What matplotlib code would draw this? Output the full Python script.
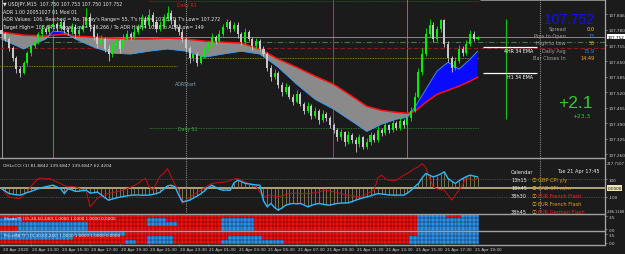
import numpy as np
import matplotlib
matplotlib.use("Agg")
import matplotlib.pyplot as plt
from matplotlib.colors import ListedColormap

W, H = 625, 255
BG = "#1b1b1b"
BULL = "#00ee00"
BEAR = "#c8c8c8"

# ---- USDJPY M15 candles, 20 Apr 11:30 .. 21 Apr 19:45 ----
opens = [107.781, 107.762, 107.741, 107.703, 107.664, 107.618, 107.602, 107.641, 107.683, 107.712,
         107.734, 107.761, 107.783, 107.772, 107.791, 107.803, 107.788, 107.812, 107.779, 107.771,
         107.793, 107.762, 107.781, 107.802, 107.833, 107.791, 107.752, 107.721, 107.743, 107.702,
         107.681, 107.712, 107.733, 107.701, 107.742, 107.763, 107.751, 107.772, 107.793, 107.822,
         107.801, 107.842, 107.811, 107.783, 107.802, 107.831, 107.852, 107.821, 107.792, 107.771,
         107.742, 107.703, 107.662, 107.681, 107.643, 107.672, 107.701, 107.722, 107.751, 107.733,
         107.762, 107.791, 107.812, 107.783, 107.801, 107.762, 107.731, 107.772, 107.741, 107.712,
         107.733, 107.702, 107.681, 107.622, 107.583, 107.601, 107.552, 107.521, 107.543, 107.502,
         107.481, 107.512, 107.472, 107.441, 107.463, 107.422, 107.443, 107.402, 107.431, 107.412,
         107.383, 107.362, 107.331, 107.352, 107.312, 107.341, 107.322, 107.302, 107.331, 107.292,
         107.312, 107.341, 107.322, 107.362, 107.351, 107.382, 107.361, 107.392, 107.372, 107.401,
         107.383, 107.412, 107.443, 107.502, 107.603, 107.681, 107.762, 107.801, 107.741, 107.782,
         107.821, 107.722, 107.661, 107.622, 107.651, 107.702, 107.683, 107.721, 107.762, 107.741]
highs = [107.792, 107.771, 107.752, 107.712, 107.671, 107.631, 107.652, 107.694, 107.721, 107.748,
         107.772, 107.801, 107.795, 107.806, 107.821, 107.814, 107.829, 107.822, 107.792, 107.809,
         107.803, 107.798, 107.826, 107.872, 107.851, 107.806, 107.768, 107.757, 107.751, 107.718,
         107.729, 107.748, 107.741, 107.761, 107.778, 107.771, 107.789, 107.806, 107.848, 107.836,
         107.868, 107.853, 107.822, 107.818, 107.847, 107.879, 107.863, 107.832, 107.803, 107.782,
         107.751, 107.711, 107.693, 107.689, 107.684, 107.713, 107.735, 107.768, 107.759, 107.779,
         107.806, 107.825, 107.821, 107.815, 107.811, 107.771, 107.789, 107.781, 107.752, 107.745,
         107.741, 107.711, 107.689, 107.633, 107.618, 107.609, 107.563, 107.557, 107.551, 107.511,
         107.528, 107.519, 107.481, 107.478, 107.471, 107.458, 107.451, 107.445, 107.439, 107.421,
         107.392, 107.371, 107.366, 107.359, 107.356, 107.349, 107.331, 107.346, 107.338, 107.327,
         107.355, 107.349, 107.378, 107.371, 107.398, 107.389, 107.408, 107.399, 107.418, 107.409,
         107.426, 107.458, 107.519, 107.622, 107.703, 107.786, 107.827, 107.812, 107.795, 107.827,
         107.826, 107.733, 107.669, 107.667, 107.716, 107.711, 107.739, 107.781, 107.775, 107.753]
lows = [107.751, 107.733, 107.694, 107.652, 107.601, 107.585, 107.594, 107.632, 107.671, 107.703,
        107.722, 107.752, 107.761, 107.764, 107.778, 107.776, 107.779, 107.768, 107.757, 107.763,
        107.748, 107.753, 107.772, 107.791, 107.776, 107.738, 107.703, 107.712, 107.688, 107.652,
        107.668, 107.701, 107.685, 107.693, 107.731, 107.738, 107.742, 107.761, 107.781, 107.789,
        107.792, 107.798, 107.771, 107.774, 107.791, 107.818, 107.806, 107.781, 107.758, 107.731,
        107.688, 107.641, 107.651, 107.628, 107.636, 107.662, 107.692, 107.713, 107.722, 107.724,
        107.753, 107.782, 107.771, 107.774, 107.748, 107.718, 107.723, 107.732, 107.698, 107.703,
        107.691, 107.669, 107.608, 107.566, 107.574, 107.538, 107.506, 107.512, 107.491, 107.466,
        107.473, 107.461, 107.428, 107.433, 107.409, 107.413, 107.389, 107.394, 107.401, 107.371,
        107.348, 107.316, 107.322, 107.296, 107.304, 107.308, 107.272, 107.291, 107.281, 107.284,
        107.301, 107.311, 107.314, 107.339, 107.343, 107.348, 107.352, 107.361, 107.364, 107.371,
        107.374, 107.401, 107.436, 107.494, 107.592, 107.672, 107.751, 107.729, 107.733, 107.771,
        107.708, 107.648, 107.606, 107.613, 107.642, 107.671, 107.676, 107.712, 107.733, 107.739]
closes = [107.762, 107.741, 107.703, 107.664, 107.618, 107.602, 107.641, 107.683, 107.712, 107.734,
          107.761, 107.783, 107.772, 107.791, 107.803, 107.788, 107.812, 107.779, 107.771, 107.793,
          107.762, 107.781, 107.802, 107.833, 107.791, 107.752, 107.721, 107.743, 107.702, 107.681,
          107.712, 107.733, 107.701, 107.742, 107.763, 107.751, 107.772, 107.793, 107.822, 107.801,
          107.842, 107.811, 107.783, 107.802, 107.831, 107.852, 107.821, 107.792, 107.771, 107.742,
          107.703, 107.662, 107.681, 107.643, 107.672, 107.701, 107.722, 107.751, 107.733, 107.762,
          107.791, 107.812, 107.783, 107.801, 107.762, 107.731, 107.772, 107.741, 107.712, 107.733,
          107.702, 107.681, 107.622, 107.583, 107.601, 107.552, 107.521, 107.543, 107.502, 107.481,
          107.512, 107.472, 107.441, 107.463, 107.422, 107.443, 107.402, 107.431, 107.412, 107.383,
          107.362, 107.331, 107.352, 107.312, 107.341, 107.322, 107.302, 107.331, 107.292, 107.312,
          107.341, 107.322, 107.362, 107.351, 107.382, 107.361, 107.392, 107.372, 107.401, 107.383,
          107.412, 107.443, 107.502, 107.603, 107.681, 107.762, 107.801, 107.741, 107.782, 107.821,
          107.722, 107.661, 107.622, 107.651, 107.702, 107.683, 107.721, 107.762, 107.741, 107.752]

# EMA cloud (read at these bars)
ema_bars = [0, 6, 12, 14, 17, 20, 25, 30, 35, 40, 45, 50, 55, 60, 65, 70, 72, 75, 80, 85,
            90, 95, 99, 103, 107, 110, 112, 115, 118, 121, 124, 127, 129]
ema_slow = [107.771, 107.758, 107.754, 107.758, 107.762, 107.754, 107.750, 107.746, 107.742, 107.742,
            107.746, 107.742, 107.733, 107.729, 107.725, 107.700, 107.683, 107.658, 107.624, 107.587,
            107.553, 107.503, 107.461, 107.444, 107.436, 107.432, 107.440, 107.478, 107.511, 107.528,
            107.545, 107.566, 107.582]
ema_fast = [107.742, 107.700, 107.742, 107.775, 107.771, 107.742, 107.708, 107.683, 107.679, 107.691,
            107.700, 107.691, 107.666, 107.679, 107.691, 107.679, 107.658, 107.624, 107.553, 107.490,
            107.449, 107.398, 107.356, 107.386, 107.407, 107.415, 107.457, 107.532, 107.608, 107.645,
            107.616, 107.658, 107.691]

# levels
price_now = 107.752
adr_high_line = 107.729
adr_low_line = 107.704
pivot_prev = 107.629
pivot_today = 107.662
daily_s1 = 107.369
daily_r1 = 107.900
ema_4h = 107.708
ema_h1 = 107.599
marker_bars = {"day": 50, "dayend": 146, "sess1": 14, "sess2": 110, "news": 89.8, "first": 0.1}
signal_bar = 136.7

price_ticks = [107.846, 107.780, 107.715, 107.650, 107.585, 107.520, 107.455, 107.390, 107.325, 107.260]

# CCI values per bar
cci_fast = [-6, -35, -65, -72, -80, -84, -70, -52, -40, -22,
            -8, 5, 15, 25, 33, 12, -6, -65, -10, -20,
            -40, -38, -30, -26, -60, -55, -48, -80, -115, -143,
            -130, -118, -108, -100, -92, -86, -84, -82, -86, -84,
            -84, -75, -65, -50, -10, 25, 33, 14, -80, -163,
            -155, -143, -118, -95, -68, -35, 5, 33, 10, -15,
            -26, -24, -26, 60, 92, 75, 55, 48, 42, 36,
            33, -150, -221, -182, -230, -261, -235, -202, -190, -182,
            -186, -182, -200, -221, -205, -190, -182, -190, -198, -202,
            -190, -182, -178, -176, -174, -160, -142, -128, -115, -104,
            -92, -78, -66, -70, -76, -82, -84, -84, -85, -84,
            -60, -26, 15, 53, 120, 171, 150, 131, 145, 165,
            190, 112, 80, 53, 85, 112, 135, 151, 140, 131]
cci_slow = [-6, -60, -104, -115, -120, -124, -80, -40, 20, 70,
            112, 118, 108, 112, 92, 70, 53, 30, 14, 18,
            14, -5, -25, -45, -221, -170, -120, -95, -80, -65,
            -55, -45, -35, -26, -10, 10, 30, 53, 90, 112,
            14, -26, 60, 140, 171, 229, 131, 40, -26, -182,
            -143, -110, -80, -50, -26, 0, 30, 53, 60, 65,
            70, 73, 90, 105, 112, 92, 70, 53, 30, 14,
            -45, -104, -95, -84, -95, -104, -90, -78, -65, -62,
            -60, -65, -68, -65, -62, -55, -45, -35, -26, -35,
            -45, -55, -65, -75, -85, -92, -98, -104, -90, -70,
            -45, -26, 120, 151, 110, 92, 90, 92, 120, 150,
            171, 200, 230, 249, 288, 240, 120, 14, -10, -20,
            -26, -80, -143, -80, -26, 40, 131, 105, 92, 112]

# trend shade panels, run lengths per row ('r' down / 'b' up), top row first
shade_runs = [
    [("r", 113), ("b", 8), ("r", 4), ("b", 5)],
    [("b", 6), ("r", 34), ("b", 5), ("r", 15), ("b", 9), ("r", 44), ("b", 17)],
    [("b", 24), ("r", 16), ("b", 8), ("r", 12), ("b", 9), ("r", 44), ("b", 17)],
    [("r", 5), ("b", 19), ("r", 36), ("b", 9), ("r", 44), ("b", 17)],
]
pricema_runs = [
    [("b", 34), ("r", 79), ("b", 17)],
    [("b", 20), ("r", 20), ("b", 7), ("r", 15), ("b", 9), ("r", 40), ("b", 19)],
    [("r", 34), ("b", 3), ("r", 3), ("b", 7), ("r", 13), ("b", 17), ("r", 34), ("b", 19)],
]

time_ticks = [0, 8, 16, 24, 32, 40, 48, 56, 64, 72, 80, 88, 96, 104, 112, 120, 128]
time_labels = ["20 Apr 2020", "20 Apr 13:30", "20 Apr 15:30", "20 Apr 17:30", "20 Apr 19:30",
               "20 Apr 21:30", "20 Apr 23:30", "21 Apr 01:30", "21 Apr 03:30", "21 Apr 05:30",
               "21 Apr 07:30", "21 Apr 09:30", "21 Apr 11:30", "21 Apr 13:30", "21 Apr 15:30",
               "21 Apr 17:30", "21 Apr 19:30"]

calendar_rows = [("13h15", "GBP CPI y/y", "#e8a317"),
                 ("19h45", "CAD CPI m/m", "#e8a317"),
                 ("38h30", "EUR French Flash", "#ff2020"),
                 ("", "EUR French Flash", "#e8a317"),
                 ("38h45", "EUR German Flash", "#ff2020")]

XMIN, XMAX = -0.41, 163.55
ICON_FONT = ["DejaVu Sans", "Noto Sans CJK JP"]

fig = plt.figure(figsize=(W / 100, H / 100), dpi=100, facecolor=BG)


def panel(x0, y0, x1, y1):
    ax = fig.add_axes([x0 / W, 1 - y1 / H, (x1 - x0) / W, (y1 - y0) / H])
    ax.set_facecolor(BG)
    ax.set_xlim(XMIN, XMAX)
    for s in ax.spines.values():
        s.set_visible(False)
    ax.set_xticks([])
    ax.set_yticks([])
    return ax


def put(x, y, s, **kw):
    kw.setdefault("va", "center")
    kw.setdefault("size", 3.4)
    fig.text(x / W, 1 - y / H, s, **kw)


def right_axis(ax):
    ax.spines["right"].set_visible(True)
    ax.spines["right"].set_color("#a8a8a8")
    ax.spines["right"].set_linewidth(0.9)
    ax.yaxis.tick_right()
    ax.tick_params(axis="y", length=1.5, width=0.5, colors="#a8a8a8", labelsize=3.0,
                   pad=1, labelcolor="#d0d0d0")


# ---------------- main chart ----------------
ax = panel(0, 0, 605, 158.5)
ax.set_ylim(107.2474, 107.909)
right_axis(ax)
ax.set_yticks(price_ticks)
ax.set_yticklabels(["%.3f" % p for p in price_ticks])

xb = np.arange(len(closes))
o = np.array(opens)
c = np.array(closes)
cols = np.where(c >= o, BULL, BEAR)

eb = np.array(ema_bars)
es = np.array(ema_slow)
ef = np.array(ema_fast)
ax.fill_between(eb, es, ef, where=es >= ef, interpolate=True, color="#8a8a8a", lw=0, zorder=2)
ax.fill_between(eb, es, ef, where=ef > es, interpolate=True, color="#0a0aff", lw=0, zorder=2)
ax.plot(eb, es, color="#ff1010", lw=1.1, zorder=2.5)
ax.plot(eb, ef, color="#3aa0ff", lw=0.6, zorder=2.5)

ax.vlines(xb, lows, highs, colors=cols, lw=0.6, zorder=3)
ax.bar(xb, np.maximum(np.abs(c - o), 0.0015), bottom=np.minimum(o, c), width=0.55,
       color=cols, lw=0, zorder=4)

# vertical markers
ax.axvline(marker_bars["first"], color="#b0b0b0", lw=0.6, zorder=1)
ax.axvline(marker_bars["sess1"], color="#9a7420", lw=0.7, zorder=1)
ax.axvline(marker_bars["sess2"], color="#9a7420", lw=0.7, zorder=1)
ax.axvline(marker_bars["news"], color="#b8401c", lw=0.7, zorder=1)
ax.axvline(marker_bars["day"], color="#8a8a8a", lw=0.8, ls=(0, (1, 1)), zorder=1)
ax.axvline(marker_bars["dayend"], color="#8a8a8a", lw=0.8, ls=(0, (1, 1)), zorder=1)
ax.vlines(signal_bar, 107.41, 107.826, color="#10c010", lw=0.9, zorder=3)

# horizontal levels
ax.axhline(price_now, color="#9a9a9a", lw=0.6, zorder=1)
ax.hlines(adr_high_line, 11.5, XMAX, color="#3f7a3f", lw=0.8, ls=(0, (5, 2, 1, 2)), zorder=1)
ax.hlines(adr_low_line, XMIN, XMAX, color="#8a1c1c", lw=0.8, ls=(0, (4, 2)), zorder=1)
ax.hlines(pivot_prev, XMIN, 47.6, color="#a89a30", lw=0.6, ls=(0, (1, 1)), zorder=1)
ax.hlines(pivot_today, 50, 129.5, color="#a89a30", lw=0.6, ls=(0, (1, 1)), zorder=1)
ax.hlines(daily_s1, 40, 129.5, color="#2f8a2f", lw=0.6, ls=(0, (1, 1)), zorder=1)
ax.hlines(daily_r1, 40, 129.5, color="#c02020", lw=0.6, ls=(0, (1, 1)), zorder=1)
ax.hlines(107.903, 129.8, XMAX, color="#9a9a9a", lw=0.6, zorder=1)
ax.hlines(ema_4h, 130.5, 145.1, color="white", lw=0.9, zorder=3)
ax.hlines(ema_h1, 130.5, 145.1, color="white", lw=0.9, zorder=3)

ax.text(1.004, price_now, "%.3f" % price_now, transform=ax.get_yaxis_transform(),
        fontsize=3.0, color="black", va="center", ha="left",
        bbox=dict(boxstyle="square,pad=0.15", fc="white", ec="none"))

# labels in the chart
put(3, 4.5, "\u25bc USDJPY,M15  107.750 107.753 107.750 107.752", color="#e8e8e8")
put(3, 12, "ADR 1.00 20051027 01 Mod 01", color="#e8e8e8")
put(3, 19.5, "ADR Values: 106, Reached = No, Today's Range= 55, T's High= 107.827, T's Low= 107.272",
    color="#e8e8e8")
put(3, 27, "Target High= 108.843, Target Low= 106.266 / To ADR High= 105 / To ADR Low= 149",
    color="#e8e8e8")
put(177, 5, "Daily R1", color="#d02020")
put(175, 85, "ADRStart", color="#7fa0b8")
put(178, 130, "Daily S1", color="#3cb043")

put(594, 20, "%.3f" % price_now, ha="right", size=10, color="#1010ff", family="Liberation Sans")
info = [("Spread", "0.0", "#ffd700"), ("Pips to Open", "15", "#1e90ff"),
        ("High to Low", "55", "#daa520"), ("Daily Avg", "75.9", "#1e90ff"),
        ("Bar Closes In", "14:49", "#ffb000")]
for k, (lab, val, col) in enumerate(info):
    yy = 29.5 + k * 7.2
    put(566, yy, lab, ha="right", color="#a0a0a0", size=3.6)
    put(595, yy, val, ha="right", color=col, size=3.6)

put(533, 51.5, "4HR 34 EMA", ha="right", color="white", size=3.4)
put(533, 77.5, "H1 34 EMA", ha="right", color="white", size=3.4)
put(593, 104, "+2.1", ha="right", size=12.5, color="#32cd32", family="Liberation Sans")
put(590, 117, "+23.3", ha="right", size=4.2, color="#32cd32")

# ---------------- CCI ----------------
ax2 = panel(0, 160, 605, 214)
ax2.set_ylim(-294, 341)
right_axis(ax2)
ax2.set_yticks([100, -100])
ax2.set_yticklabels(["100", "-100"])
ax2.axhline(100, color="#707070", lw=0.5, ls=(0, (1, 1.5)))
ax2.axhline(-100, color="#707070", lw=0.5, ls=(0, (1, 1.5)))
ax2.axhline(0, color="#d8c890", lw=1.1, zorder=1)
ax2.vlines(xb, 0, cci_fast, colors="#a89060", lw=0.5, zorder=2)
ax2.plot(xb, cci_slow, color="#c81010", lw=0.7, zorder=3)
ax2.plot(xb, cci_fast, color="#2ab8ff", lw=1.0, zorder=4)
ax2.axvline(marker_bars["day"], color="#8a8a8a", lw=0.8, ls=(0, (1, 1)), zorder=1)
ax2.axvline(marker_bars["dayend"], color="#8a8a8a", lw=0.8, ls=(0, (1, 1)), zorder=1)
ax2.text(1.004, 0, "0.0000", transform=ax2.get_yaxis_transform(), fontsize=3.0, color="black",
         va="center", ha="left", bbox=dict(boxstyle="square,pad=0.15", fc="#f0e6b8", ec="none"))
put(606.5, 164, "217.7107", color="#d0d0d0", size=2.7)
put(606.5, 212, "-286.1188", color="#d0d0d0", size=2.6)
put(3, 166, "OHLcCCI (1) 81.8842 139.6847 139.6847 62.4204", color="#e0e0e0", size=3.2)

put(511, 172, "Calendar", color="#f0f0f0", size=3.6)
put(600, 172, "Tue 21 Apr 17:45", color="#f0f0f0", size=3.6, ha="right")
for k, (t, ev, col) in enumerate(calendar_rows):
    yy = 180.5 + k * 8.0
    if t:
        put(511, yy, t, color="#f0f0f0", size=3.6)
    put(531.5, yy, "\u24d8", color="#e8a317", size=3.6, family=ICON_FONT)
    put(538, yy, ev, color=col, size=3.6)

# ---------------- shade panels ----------------
cmap = ListedColormap(["#f01010", "#2a90e8"])


def heat(y0, y1, runs, title):
    axh = panel(0, y0, 605, y1)
    right_axis(axh)
    rows = [[1 if ch == "b" else 0 for ch, n in r for _ in range(n)] for r in runs]
    grid = np.array(rows[::-1])
    nr, nc = grid.shape
    axh.pcolormesh(np.arange(nc + 1) - 0.5, np.arange(nr + 1), grid, cmap=cmap, vmin=0, vmax=1,
                   edgecolors="none", antialiased=False)
    axh.vlines(np.arange(nc + 1) - 0.5, 0, nr, color="#180000", lw=0.35, alpha=0.75)
    axh.hlines(np.arange(nr + 1), -0.5, nc - 0.5, color="#180000", lw=0.35, alpha=0.75)
    axh.set_ylim(0, nr)
    axh.set_yticks([nr - 0.6, 0.3])
    axh.set_yticklabels(["3.5", "0.0"])
    axh.text(0.006, 0.78, title, transform=axh.transAxes, fontsize=3.0, color="#f0f0f0",
             va="center")
    return axh


heat(215, 231.5, shade_runs, "ShadeTF (15,30,60,240) 1.0000 1.0000 1.0000 0.0000")
heat(233, 245, pricema_runs, "PriceMA TF (15,30,60,240) 1.0000 1.0000 1.0000 0.0000")

# ---------------- time axis ----------------
axt = panel(0, 245, 605, 255)
axt.set_ylim(0, 1)
for b, lab in zip(time_ticks, time_labels):
    axt.vlines(b, 0.8, 1.0, color="#a8a8a8", lw=0.5)
    axt.text(b + 0.3, 0.45, lab, fontsize=3.0, color="#d8d8d8", va="center", ha="left")

# panel separators
for yy in (159, 214.5, 232, 245.5):
    fig.add_artist(plt.Line2D([0, 605 / W], [1 - yy / H] * 2, color="#a0a0a0", lw=1.0))

fig.savefig("out.png", dpi=100, facecolor=BG)
